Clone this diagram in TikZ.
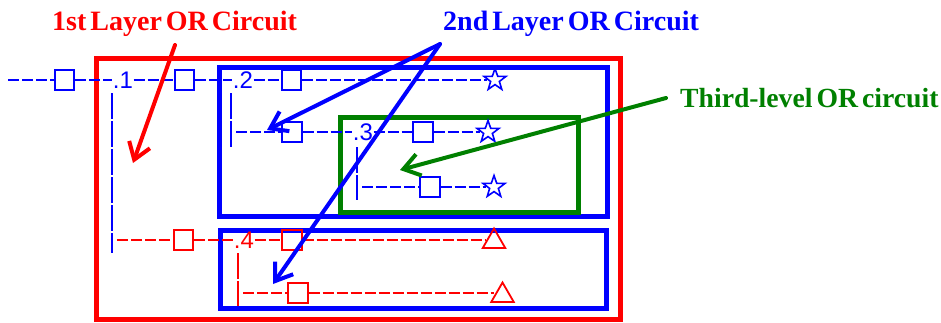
\documentclass[tikz,border=0pt]{standalone}
\usepackage{fontspec}
\setmainfont{Liberation Serif}
\newfontfamily\lsans{Liberation Sans}
\usetikzlibrary{arrows.meta,shapes.geometric}
\definecolor{dgreen}{RGB}{0,128,0}
\newcommand\mytightsp{\spaceskip=4pt plus 1pt minus 1pt\relax}
\begin{document}
\begin{tikzpicture}[x=1pt,y=-1pt,
  frame/.style={line width=5pt},
  tline/.style={line width=1.5pt, dash pattern=on 11pt off 3pt},
  vline/.style={line width=1.5pt, dash pattern=on 26pt off 2pt},
  sq/.style={draw, line width=1.8pt, minimum size=19.5pt, inner sep=0pt},
  stt/.style={draw, star, star points=5, star point ratio=2.5, minimum size=23pt, inner sep=0pt, line width=1.6pt},
  tri/.style={draw, regular polygon, regular polygon sides=3, minimum size=26pt, inner sep=0pt, line width=1.8pt},
  lab/.style={font=\lsans\fontsize{24}{24}\selectfont, inner sep=0.5pt},
  ttl/.style={font=\fontsize{28}{30}\selectfont\bfseries\mytightsp, inner sep=0pt, anchor=base west},
  arr/.style={line width=4pt, line cap=round, -{Straight Barb[length=16pt,width=22pt]}},
]
\useasboundingbox (0,0) rectangle (941,322);

% titles
\node[ttl, text=red] (t1) at (52,30) {1st Layer OR Circuit};
\node[ttl, text=blue] (t2) at (443,30) {2nd Layer OR Circuit};
\node[ttl, text=dgreen, font=\fontsize{27.7}{30}\selectfont\bfseries\mytightsp] (t3) at (680,107) {Third-level OR circuit};

% frames
\draw[frame, red] (96,58) rectangle (620,319);
\draw[frame, blue] (219.5,67) rectangle (607,216);
\draw[frame, blue] (220,230.5) rectangle (606.5,308);
\draw[frame, dgreen] (340,117) rectangle (578,212);

% row 1
\coordinate (r1s) at (8,80);
\node[sq, blue] (q1) at (64.5,80) {};
\node[lab, text=blue] (n1) at (123,80) {.1};
\node[sq, blue] (q2) at (184.5,80) {};
\node[lab, text=blue] (n2) at (243,80) {.2};
\node[sq, blue] (q3) at (291.5,80) {};
\node[stt, blue] (s1) at (495,80) {};
\draw[tline, blue] (r1s) -- (q1) -- (n1) -- (q2) -- (n2) -- (q3) -- (s1);

% vertical under .1
\coordinate (v1a) at (112,93);
\coordinate (v1b) at (112,253);
\draw[vline, blue] (v1a) -- (v1b);

% row 4 (red)
\coordinate (r4s) at (117,240);
\node[sq, red] (q4) at (183.5,240) {};
\node[lab, text=red] (n4) at (244,240) {.4};
\node[sq, red] (q5) at (292,240) {};
\node[tri, red] (tr1) at (494,241.5) {};
\draw[tline, red] (r4s) -- (q4) -- (n4) -- (q5) -- (tr1.west |- q5.east);

% vertical under .2 and row 2
\coordinate (v2a) at (231,93);
\coordinate (v2b) at (231,147);
\draw[vline, blue] (v2a) -- (v2b);
\coordinate (r2s) at (236,132);
\node[sq, blue] (q6) at (292,132) {};
\node[lab, text=blue] (n3) at (363,132) {.3};
\node[sq, blue] (q7) at (423,132) {};
\node[stt, blue] (s2) at (488,132) {};
\draw[tline, blue] (r2s) -- (q6) -- (n3) -- (q7) -- (s2);

% vertical under .3 and row 3
\coordinate (v3a) at (357,147);
\coordinate (v3b) at (357,200);
\draw[vline, blue] (v3a) -- (v3b);
\coordinate (r3s) at (362,187);
\node[sq, blue] (q8) at (430,187) {};
\node[stt, blue] (s3) at (494,187) {};
\draw[tline, blue] (r3s) -- (q8) -- (s3);

% vertical under .4 and row 5 (red)
\coordinate (v4a) at (238,253);
\coordinate (v4b) at (238,306);
\draw[vline, red] (v4a) -- (v4b);
\coordinate (r5s) at (243,293);
\node[sq, red] (q9) at (298,293) {};
\node[tri, red] (tr2) at (502.5,295.5) {};
\draw[tline, red] (r5s) -- (q9) -- (tr2.west |- q9.east);

% arrows
\coordinate (ra) at (175,45);
\coordinate (rb) at (133,163);
\coordinate (ba) at (440,44);
\coordinate (bb) at (267,130);
\coordinate (bc) at (273,284);
\coordinate (ga) at (666,98);
\coordinate (gb) at (400,170);
\draw[arr, red] (ra) -- (rb);
\draw[arr, blue] (ba) -- (bb);
\draw[arr, blue] (ba) -- (bc);
\draw[arr, dgreen] (ga) -- (gb);
\end{tikzpicture}
\end{document}
